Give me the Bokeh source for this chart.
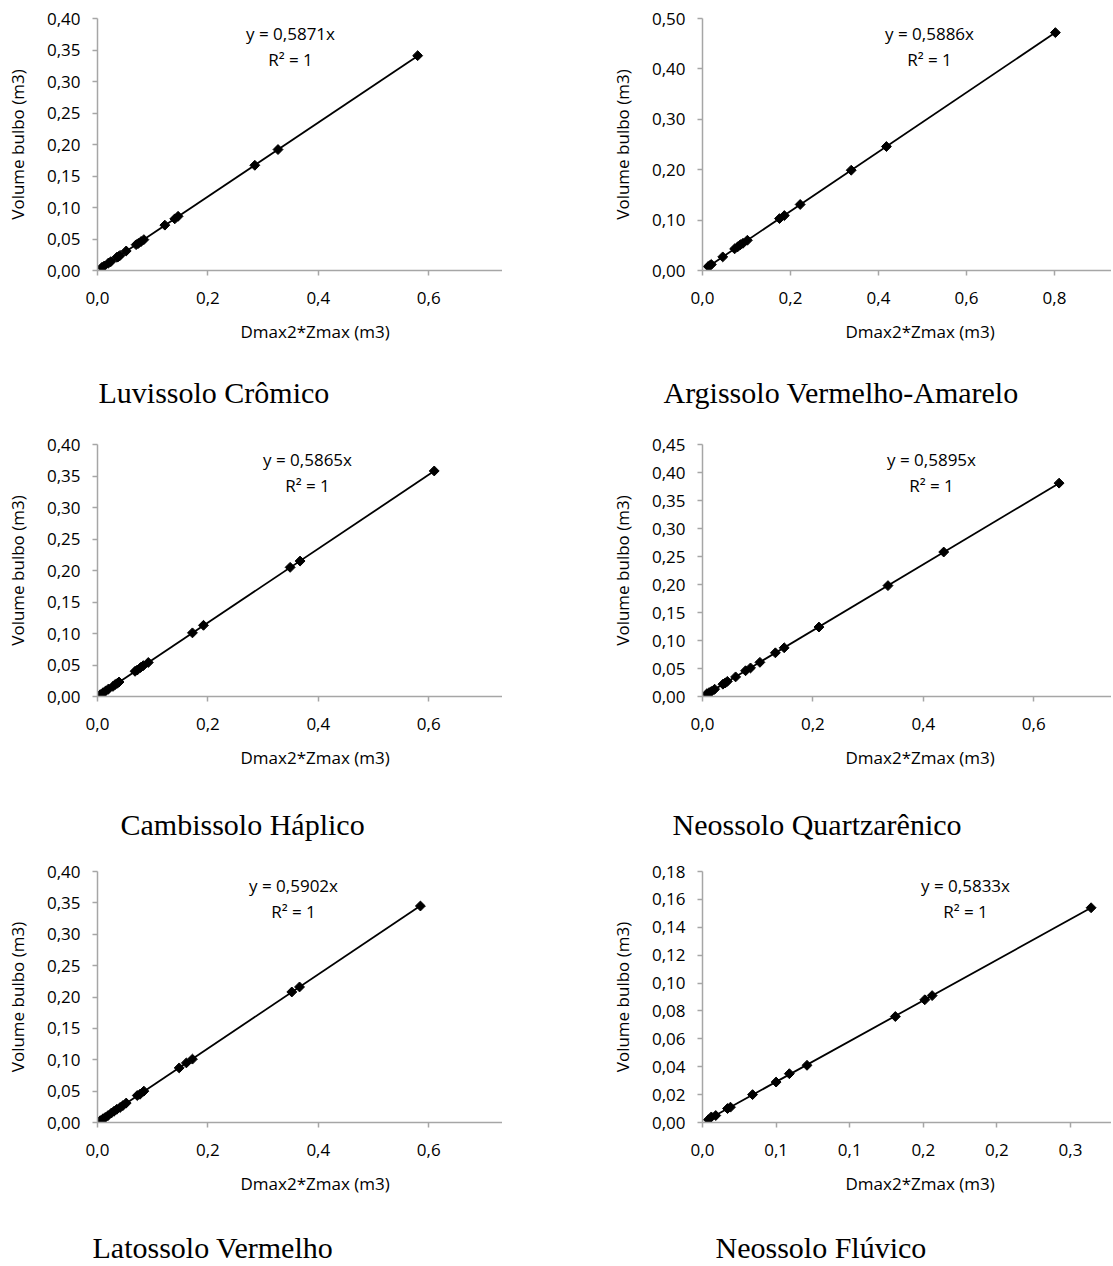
from bokeh.plotting import figure
from bokeh.models import Range1d, FixedTicker, Label, Title
from bokeh.layouts import column, row
from bokeh.core.properties import value
from bokeh.embed import file_html
from bokeh.resources import INLINE

# ---------------- data ----------------
luv_x = [0.008, 0.012, 0.020, 0.024, 0.035, 0.038, 0.041, 0.052, 0.070, 0.074, 0.079, 0.084, 0.122, 0.140, 0.146, 0.285, 0.327, 0.580]
luv_y = [0.005, 0.007, 0.012, 0.014, 0.021, 0.022, 0.024, 0.031, 0.041, 0.043, 0.046, 0.049, 0.072, 0.082, 0.086, 0.167, 0.192, 0.341]

arg_x = [0.013, 0.017, 0.020, 0.046, 0.073, 0.080, 0.086, 0.092, 0.102, 0.175, 0.186, 0.222, 0.338, 0.418, 0.802]
arg_y = [0.008, 0.010, 0.012, 0.027, 0.043, 0.047, 0.051, 0.054, 0.060, 0.103, 0.109, 0.131, 0.199, 0.246, 0.472]

cam_x = [0.005, 0.010, 0.015, 0.020, 0.028, 0.032, 0.036, 0.039, 0.068, 0.072, 0.078, 0.083, 0.092, 0.172, 0.192, 0.349, 0.367, 0.610]
cam_y = [0.003, 0.006, 0.009, 0.012, 0.016, 0.019, 0.021, 0.023, 0.040, 0.042, 0.046, 0.049, 0.054, 0.101, 0.113, 0.205, 0.215, 0.358]

nqz_x = [0.008, 0.012, 0.016, 0.022, 0.037, 0.041, 0.045, 0.060, 0.078, 0.087, 0.104, 0.132, 0.148, 0.211, 0.336, 0.437, 0.646]
nqz_y = [0.005, 0.007, 0.009, 0.013, 0.022, 0.024, 0.027, 0.035, 0.046, 0.051, 0.061, 0.078, 0.087, 0.124, 0.198, 0.258, 0.381]

lat_x = [0.005, 0.010, 0.014, 0.019, 0.025, 0.030, 0.035, 0.041, 0.046, 0.052, 0.072, 0.077, 0.084, 0.148, 0.161, 0.172, 0.352, 0.366, 0.585]
lat_y = [0.003, 0.006, 0.008, 0.011, 0.015, 0.018, 0.021, 0.024, 0.027, 0.031, 0.043, 0.045, 0.050, 0.087, 0.095, 0.101, 0.208, 0.216, 0.345]

nfl_x = [0.004, 0.006, 0.009, 0.017, 0.019, 0.034, 0.050, 0.059, 0.071, 0.131, 0.151, 0.156, 0.264]
nfl_y = [0.002, 0.004, 0.005, 0.010, 0.011, 0.020, 0.029, 0.035, 0.041, 0.076, 0.088, 0.091, 0.154]

slopes = [0.5871, 0.5886, 0.5865, 0.5895, 0.5902, 0.5833]
equations = ["y = 0,5871x", "y = 0,5886x", "y = 0,5865x", "y = 0,5895x", "y = 0,5902x", "y = 0,5833x"]
r2_text = "R² = 1"
captions = ["Luvissolo Crômico", "Argissolo Vermelho-Amarelo", "Cambissolo Háplico",
            "Neossolo Quartzarênico", "Latossolo Vermelho", "Neossolo Flúvico"]
x_title = "Dmax2*Zmax (m3)"
y_title = "Volume bulbo (m3)"

# tick values and labels
xt_a = [0.0, 0.2, 0.4, 0.6]
xl_a = ["0,0", "0,2", "0,4", "0,6"]
xt_b = [0.0, 0.2, 0.4, 0.6, 0.8]
xl_b = ["0,0", "0,2", "0,4", "0,6", "0,8"]
xt_c = [0.0, 0.05, 0.10, 0.15, 0.20, 0.25]
xl_c = ["0,0", "0,1", "0,1", "0,2", "0,2", "0,3"]

yt_40 = [0.0, 0.05, 0.10, 0.15, 0.20, 0.25, 0.30, 0.35, 0.40]
yl_40 = ["0,00", "0,05", "0,10", "0,15", "0,20", "0,25", "0,30", "0,35", "0,40"]
yt_50 = [0.0, 0.10, 0.20, 0.30, 0.40, 0.50]
yl_50 = ["0,00", "0,10", "0,20", "0,30", "0,40", "0,50"]
yt_45 = [0.0, 0.05, 0.10, 0.15, 0.20, 0.25, 0.30, 0.35, 0.40, 0.45]
yl_45 = ["0,00", "0,05", "0,10", "0,15", "0,20", "0,25", "0,30", "0,35", "0,40", "0,45"]
yt_18 = [0.0, 0.02, 0.04, 0.06, 0.08, 0.10, 0.12, 0.14, 0.16, 0.18]
yl_18 = ["0,00", "0,02", "0,04", "0,06", "0,08", "0,10", "0,12", "0,14", "0,16", "0,18"]

SANS = "Open Sans"
SERIF = "Liberation Serif"
AXIS_GRAY = "#a6a6a6"


def make_panel(xs, ys, slope, eq, x_end, y_end, xt, xl, yt, yl,
               width, height, b_left, b_top, b_bottom, eq_dx, eq_dy):
    p = figure(width=width, height=height, output_backend="svg", toolbar_location=None,
               x_range=Range1d(0, x_end), y_range=Range1d(0, y_end),
               min_border_left=b_left, min_border_right=0,
               min_border_top=b_top, min_border_bottom=b_bottom,
               background_fill_color="white", border_fill_color="white")
    p.outline_line_color = None
    p.xgrid.visible = False
    p.ygrid.visible = False

    fw = width - b_left
    fh = height - b_top - b_bottom
    ux = x_end / fw
    uy = y_end / fh

    for ax in (p.xaxis[0], p.yaxis[0]):
        ax.axis_line_color = AXIS_GRAY
        ax.axis_line_width = 1.5
        ax.major_tick_line_color = AXIS_GRAY
        ax.major_tick_line_width = 1.5
        ax.major_tick_in = 0
        ax.major_tick_out = 5
        ax.minor_tick_line_color = None
        ax.major_label_text_font = SANS
        ax.major_label_text_font_size = "17px"
        ax.major_label_text_color = "#000000"
        ax.axis_label_text_font = SANS
        ax.axis_label_text_font_size = "17px"
        ax.axis_label_text_font_style = "normal"
        ax.axis_label_text_color = "#000000"

    xa = p.xaxis[0]
    xa.ticker = FixedTicker(ticks=xt)
    xa.major_label_overrides = dict(zip(xt, xl))
    xa.major_label_standoff = 16

    # x-axis title, placed where the reference shows it (centred on the uncropped axis)
    p.add_layout(Title(text=x_title, align="left", offset=143, standoff=22,
                       text_font=SANS, text_font_size="17px", text_font_style="normal",
                       text_color="#000000"), "below")

    ya = p.yaxis[0]
    ya.ticker = FixedTicker(ticks=yt)
    ya.major_label_overrides = dict(zip(yt, yl))
    ya.axis_label = y_title
    ya.major_label_standoff = 12
    ya.axis_label_standoff = 15

    x0, x1 = min(xs), max(xs)
    p.line([x0, x1], [slope * x0, slope * x1], line_color="black", line_width=1.8)
    p.scatter(xs, ys, marker="square", angle=0.785398, size=7,
              fill_color="black", line_color="black")

    ex = eq_dx * ux
    p.add_layout(Label(x=ex, y=y_end - eq_dy * uy, text=eq, text_font=SANS,
                       text_font_size="17px", text_align="center", text_baseline="middle",
                       text_color="#000000"))
    p.add_layout(Label(x=ex, y=y_end - (eq_dy + 26) * uy, text=r2_text, text_font=SANS,
                       text_font_size="17px", text_align="center", text_baseline="middle",
                       text_color="#000000"))
    return p


def make_caption(text, width, height, x_px, mid_px):
    c = figure(width=width, height=height, output_backend="svg", toolbar_location=None,
               x_range=Range1d(0, width), y_range=Range1d(0, height),
               min_border=0, x_axis_type=None, y_axis_type=None,
               background_fill_color="white", border_fill_color="white")
    c.outline_line_color = None
    c.text(x=[x_px], y=[mid_px], text=[text], text_font=value(SERIF),
           text_font_size="30px", text_align="left", text_baseline="middle",
           text_color="black")
    return c


LW, RW = 502, 609
LB, RB = 97, 200
BB = 90

p1 = make_panel(luv_x, luv_y, slopes[0], equations[0], 405 / 552, 0.40,
                xt_a, xl_a, yt_40, yl_40, LW, 18 + 252 + BB, LB, 18, BB, 193, 15)
p2 = make_panel(arg_x, arg_y, slopes[1], equations[1], 409 / 440, 0.50,
                xt_b, xl_b, yt_50, yl_50, RW, 18 + 252 + BB, RB, 18, BB, 227, 15)
p3 = make_panel(cam_x, cam_y, slopes[2], equations[2], 405 / 552, 0.40,
                xt_a, xl_a, yt_40, yl_40, LW, 10 + 252 + BB, LB, 10, BB, 210, 15)
p4 = make_panel(nqz_x, nqz_y, slopes[3], equations[3], 409 / 552, 0.45,
                xt_a, xl_a, yt_45, yl_45, RW, 10 + 252 + BB, RB, 10, BB, 229, 15)
p5 = make_panel(lat_x, lat_y, slopes[4], equations[4], 405 / 552, 0.40,
                xt_a, xl_a, yt_40, yl_40, LW, 11 + 251 + BB, LB, 11, BB, 196, 14)
p6 = make_panel(nfl_x, nfl_y, slopes[5], equations[5], 409 / 1472, 0.18,
                xt_c, xl_c, yt_18, yl_18, RW, 11 + 251 + BB, RB, 11, BB, 263, 14)

c1 = make_caption(captions[0], LW, 74, 98, 42)
c2 = make_caption(captions[1], RW, 74, 663 - LW, 42)
c3 = make_caption(captions[2], LW, 74, 120, 36)
c4 = make_caption(captions[3], RW, 74, 672 - LW, 36)
c5 = make_caption(captions[4], LW, 52, 92, 17)
c6 = make_caption(captions[5], RW, 52, 715 - LW, 17)

layout = column(row(p1, p2), row(c1, c2),
                row(p3, p4), row(c3, c4),
                row(p5, p6), row(c5, c6))

with open("out.html", "w") as f:
    f.write(file_html(layout, INLINE))
